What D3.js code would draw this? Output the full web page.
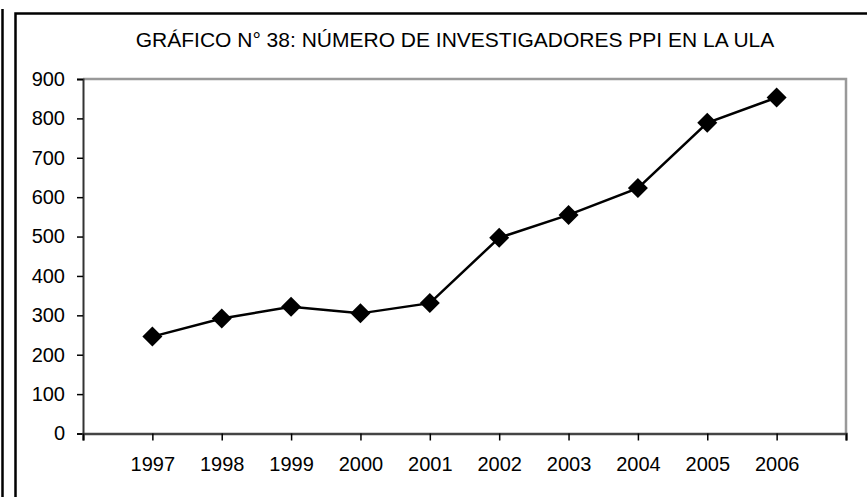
<!DOCTYPE html>
<html>
<head>
<meta charset="utf-8">
<script src="https://cdn.jsdelivr.net/npm/d3@7"></script>
<style>
  html, body { margin: 0; padding: 0; background: #fff; }
  svg { display: block; font-family: Arial, "Liberation Sans", sans-serif; }
</style>
</head>
<body>
<svg id="chart" width="867" height="497"></svg>
<script>
// Researchers in the PPI programme at ULA, by year
const years = ["1997", "1998", "1999", "2000", "2001", "2002", "2003", "2004", "2005", "2006"];
const researchers = [246, 292, 322, 305, 331, 497, 555, 623, 789, 853];
const yTicks = [0, 100, 200, 300, 400, 500, 600, 700, 800, 900];
const title = "GRÁFICO N° 38: NÚMERO DE INVESTIGADORES PPI EN LA ULA";

const svg = d3.select("#chart");
const W = 867, H = 497;

// frame lines around the figure
svg.append("line").attr("x1", 2.5).attr("x2", 2.5).attr("y1", 9).attr("y2", H)
  .attr("stroke", "#000").attr("stroke-width", 2.5);
svg.append("path").attr("d", `M15.5,${H} V13.5 H${W}`)
  .attr("fill", "none").attr("stroke", "#000").attr("stroke-width", 2.5);

const plot = { left: 83, right: 846, top: 79, bottom: 433.5 };

// one slot per year plus a half-gap on each side
const x = d3.scalePoint().domain(["", ...years, " "]).range([plot.left, plot.right]);
const y = d3.scaleLinear().domain([0, 900]).range([plot.bottom, plot.top]);

// plot box: grey top and right edges
svg.append("path").attr("d", `M${plot.left},${plot.top} H${plot.right} V${plot.bottom}`)
  .attr("fill", "none").attr("stroke", "#999").attr("stroke-width", 2.5);

// y axis
const yAxis = svg.append("g").attr("transform", `translate(${plot.left},0)`)
  .call(d3.axisLeft(y).tickValues(yTicks).tickSize(6).tickPadding(12));
yAxis.select(".domain").attr("stroke", "#333").attr("stroke-width", 2);
yAxis.selectAll(".tick line").attr("stroke", "#000").attr("stroke-width", 1.5);
yAxis.selectAll(".tick text").attr("font-size", 20).attr("fill", "#000")
  .attr("font-family", "Arial, 'Liberation Sans', sans-serif");

// x axis: ticks at every year plus both plot ends
const xAxis = svg.append("g").attr("transform", `translate(0,${plot.bottom})`)
  .call(d3.axisBottom(x).tickValues(x.domain()).tickSize(7).tickPadding(16)
    .tickFormat(d => d.trim()));
xAxis.select(".domain").attr("stroke", "#444").attr("stroke-width", 2.5);
xAxis.selectAll(".tick line").attr("stroke", "#000").attr("stroke-width", 1.5);
xAxis.selectAll(".tick text").attr("font-size", 20).attr("fill", "#000")
  .attr("font-family", "Arial, 'Liberation Sans', sans-serif");

// series line
const pts = years.map((yr, i) => ({ yr, v: researchers[i] }));
svg.append("path").datum(pts)
  .attr("fill", "none").attr("stroke", "#000").attr("stroke-width", 2.5)
  .attr("d", d3.line().x(d => x(d.yr)).y(d => y(d.v)));

// diamond markers
svg.selectAll("path.marker").data(pts).join("path")
  .attr("class", "marker")
  .attr("transform", d => `translate(${x(d.yr)},${y(d.v)})`)
  .attr("d", "M0,-10 L10,0 L0,10 L-10,0 Z")
  .attr("fill", "#000");

// title
svg.append("text").attr("x", 455).attr("y", 47)
  .attr("text-anchor", "middle").attr("font-size", 21).attr("fill", "#000")
  .text(title);
</script>
</body>
</html>
